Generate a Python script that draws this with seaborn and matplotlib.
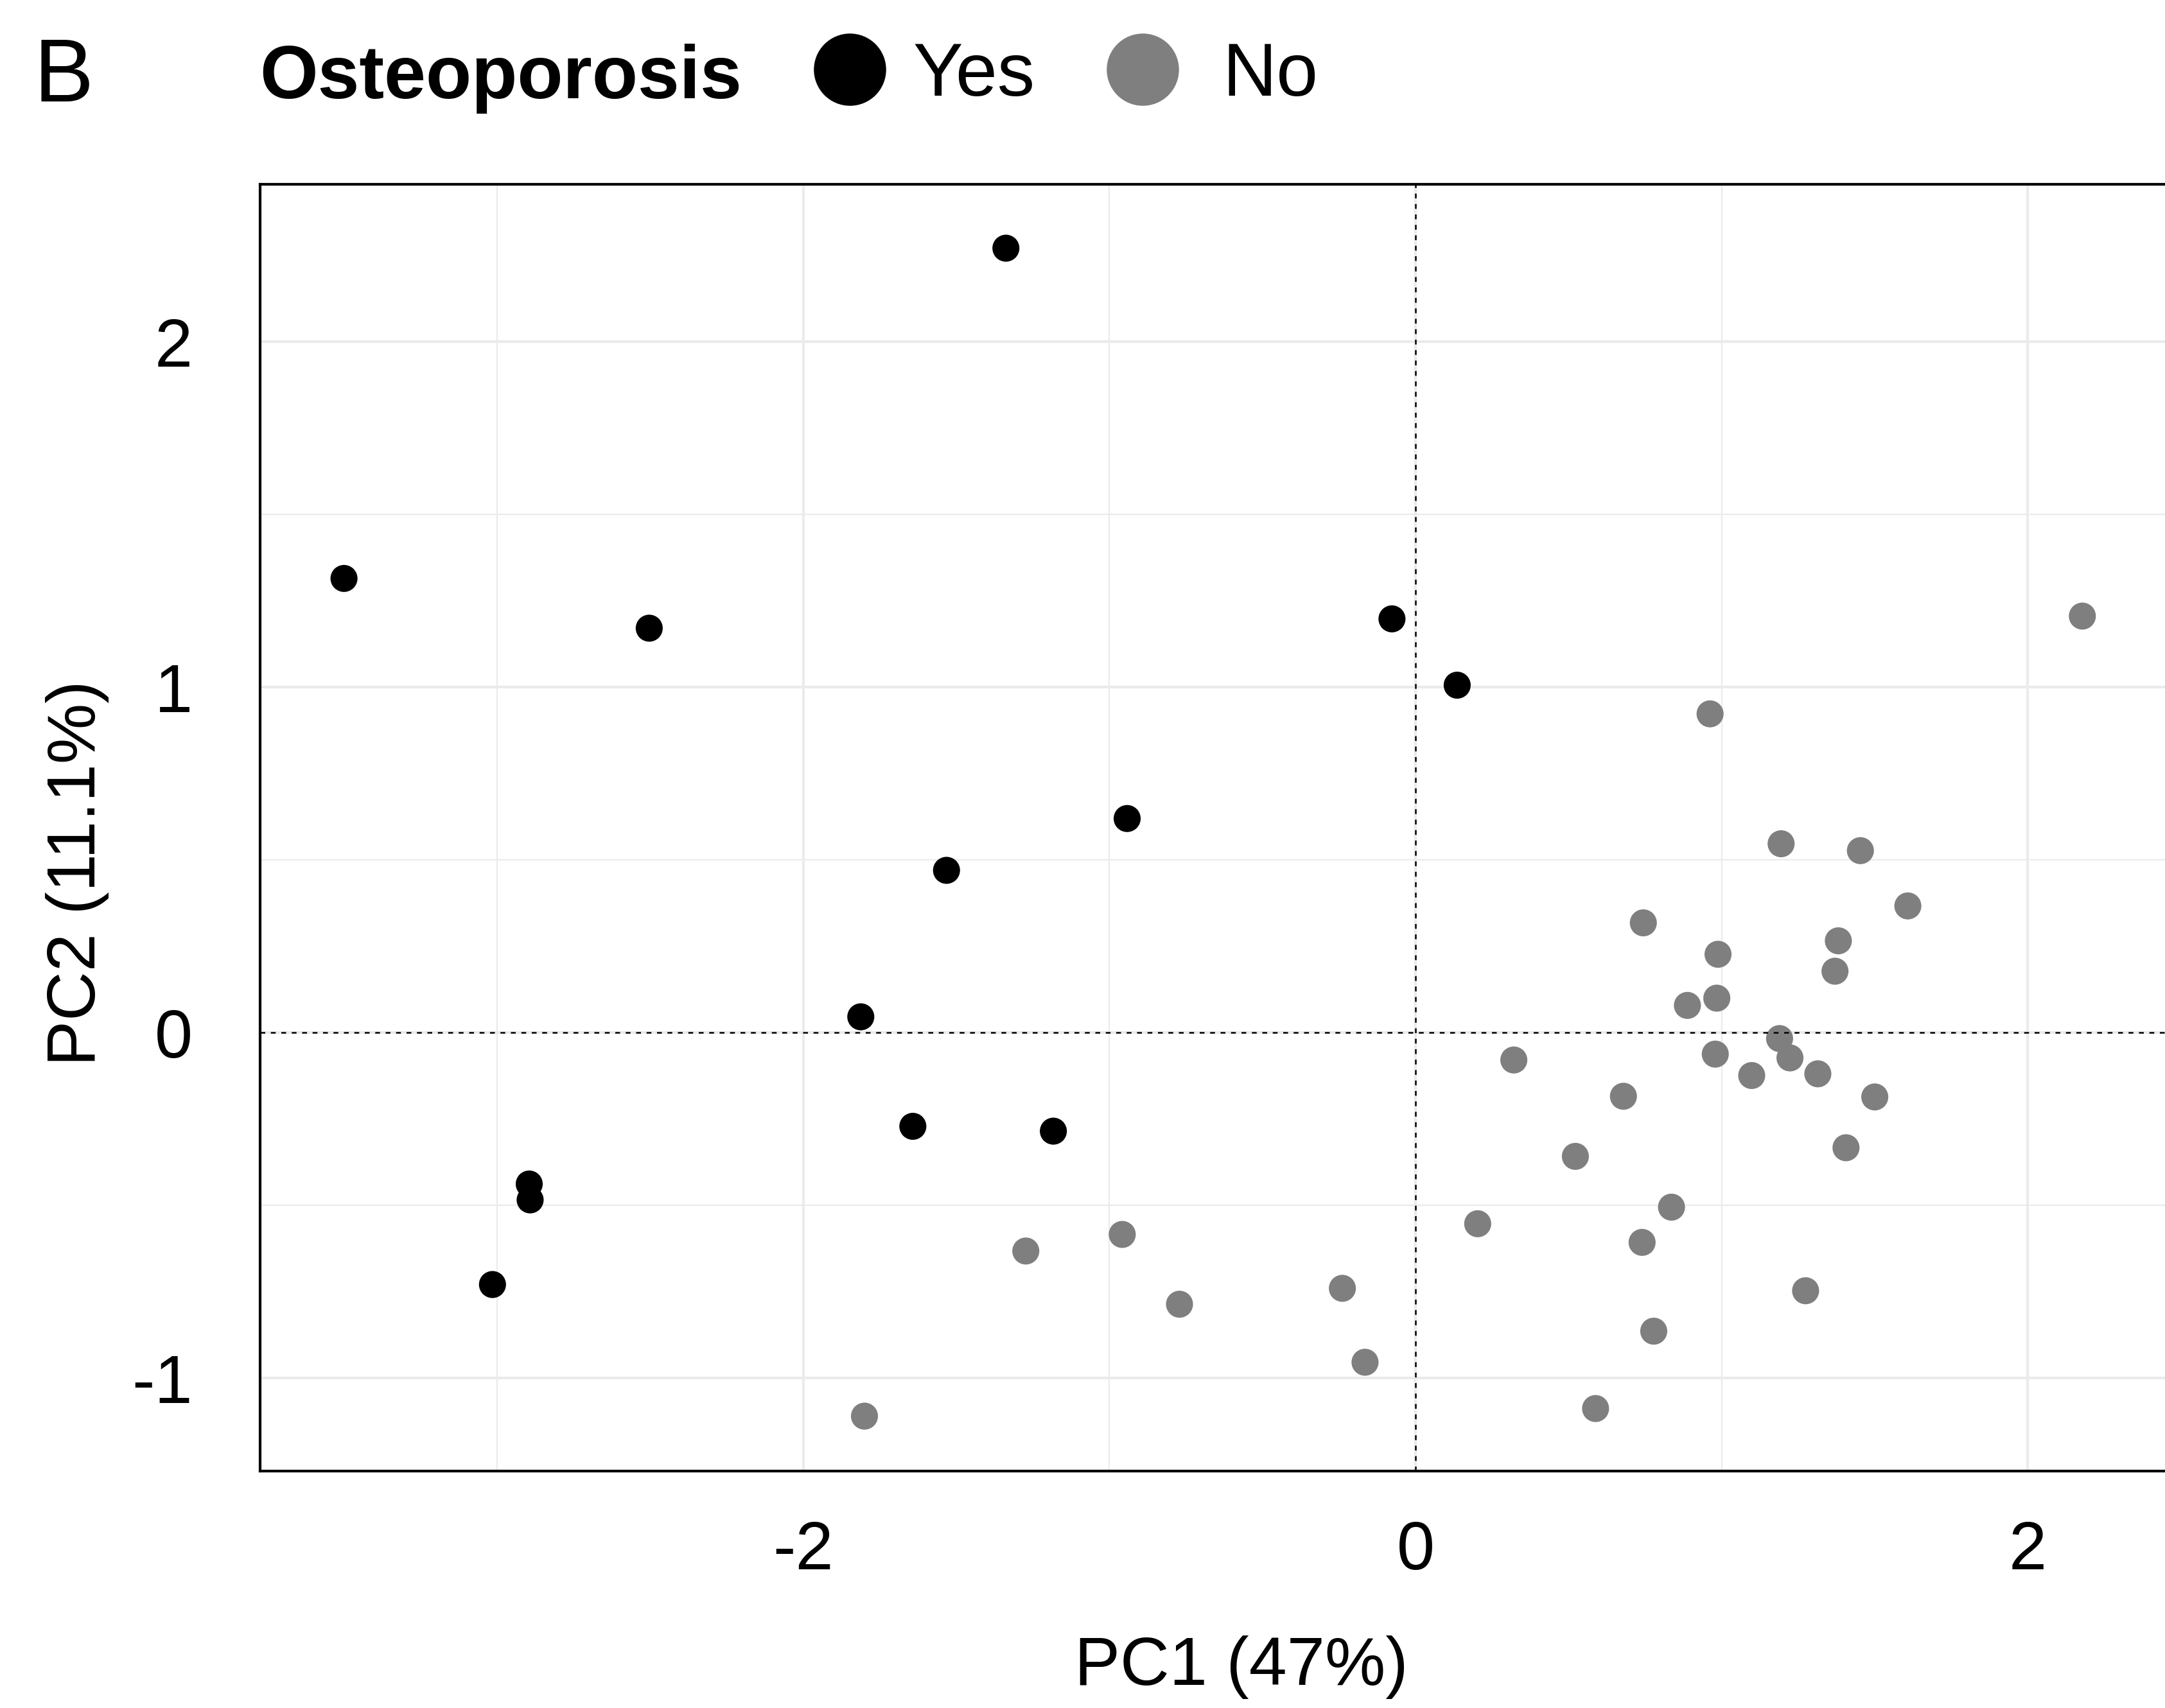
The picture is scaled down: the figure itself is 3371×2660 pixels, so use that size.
import numpy as np
import pandas as pd
import matplotlib
matplotlib.use("Agg")
import matplotlib.pyplot as plt
from matplotlib.lines import Line2D
import seaborn as sns

# ---- data ----
yes_x = [-3.500, -2.503, -1.338, -0.077, 0.136, -0.942, -1.532, -1.812,
         -1.642, -1.183, -2.895, -2.892, -3.015]
yes_y = [1.314, 1.170, 2.270, 1.197, 1.005, 0.619, 0.469, 0.045,
         -0.272, -0.286, -0.439, -0.485, -0.730]

no_x = [2.178, 0.962, 1.194, 1.453, 1.608, 0.744, 1.381, 0.988, 1.370,
        0.984, 0.888, 1.189, 1.223, 0.979, 1.098, 1.314, 0.321, 0.679,
        1.500, 0.522, 1.406, 0.836, 0.203, 0.740, 1.274, 0.778, 0.588,
        -0.239, -0.165, -0.771, -0.958, -1.273, -1.800]
no_y = [1.205, 0.922, 0.546, 0.526, 0.366, 0.317, 0.265, 0.226, 0.177,
        0.099, 0.078, -0.018, -0.074, -0.063, -0.125, -0.120, -0.080, -0.185,
        -0.187, -0.359, -0.334, -0.506, -0.554, -0.608, -0.748, -0.865, -1.089,
        -0.741, -0.955, -0.787, -0.585, -0.633, -1.111]

groups = ["Yes", "No"]
colors = {"Yes": "#000000", "No": "#7F7F7F"}
x_ticks = [-2, 0, 2]
y_ticks = [-1, 0, 1, 2]
x_label = "PC1 (47%)"
y_label = "PC2 (11.1%)"
legend_title = "Osteoporosis"
panel_tag = "B"

df = pd.DataFrame({
    "PC1": yes_x + no_x,
    "PC2": yes_y + no_y,
    "Osteoporosis": ["Yes"] * len(yes_x) + ["No"] * len(no_x),
})

# ---- style ----
sns.set_style("white")
plt.rcParams["font.family"] = ["Liberation Sans", "DejaVu Sans"]
plt.rcParams["axes.unicode_minus"] = False
plt.rcParams["text.color"] = "black"
plt.rcParams["axes.labelcolor"] = "black"
plt.rcParams["xtick.color"] = "black"
plt.rcParams["ytick.color"] = "black"

W, H, DPI = 3371, 2661, 300
fig = plt.figure(figsize=(W / DPI, H / DPI), dpi=DPI)

xlim = (-3.774, 2.462)
ylim = (-1.270, 2.455)
px_per_x = 476.7
left_px, top_px, bottom_px = 405, 288, 2292
width_px = (xlim[1] - xlim[0]) * px_per_x
ax = fig.add_axes([left_px / W, 1 - bottom_px / H, width_px / W, (bottom_px - top_px) / H])

# grid
ax.set_axisbelow(True)
ax.set_xticks(x_ticks)
ax.set_yticks(y_ticks)
ax.set_xticks([-3, -1, 1], minor=True)
ax.set_yticks([-0.5, 0.5, 1.5], minor=True)
ax.grid(which="major", color="#EBEBEB", linewidth=1.0)
ax.grid(which="minor", color="#EBEBEB", linewidth=0.55)

sns.scatterplot(data=df, x="PC1", y="PC2", hue="Osteoporosis",
                palette=colors, hue_order=groups, s=102, linewidth=0,
                alpha=1, ax=ax, legend=False, zorder=3)

ax.axhline(0, color="black", linewidth=0.6, linestyle=(0, (3, 3.5)), zorder=4)
ax.axvline(0, color="black", linewidth=0.6, linestyle=(0, (3, 3.5)), zorder=4)

ax.set_xlim(*xlim)
ax.set_ylim(*ylim)
ax.set_xticklabels([str(t) for t in x_ticks])
ax.set_yticklabels([str(t) for t in y_ticks])

for side in ["left", "top", "bottom", "right"]:
    ax.spines[side].set_visible(True)
    ax.spines[side].set_color("black")
    ax.spines[side].set_linewidth(1.0)

ax.tick_params(axis="both", which="major", direction="out", color="black",
               width=1.0, labelsize=25.5, labelcolor="black")
ax.tick_params(axis="y", which="major", length=13.4, pad=11.8)
ax.tick_params(axis="x", which="major", length=8.9, pad=9)
ax.tick_params(which="minor", length=0)

ax.set_xlabel(x_label, fontsize=25.5, va="baseline", color="black")
ax.set_ylabel(y_label, fontsize=25.5, va="baseline", color="black")
ax.xaxis.set_label_coords((1933 - left_px) / width_px, -(2624 - bottom_px) / (bottom_px - top_px))
ax.yaxis.set_label_coords(-(left_px - 148) / width_px, (bottom_px - 1360) / (bottom_px - top_px))

# legend (one key per legend so each label gap matches the reference)
legend_y = 1 - 119 / H
marker_centres = {"Yes": 1323, "No": 1779}
text_pads = {"Yes": 0.34, "No": 0.565}
for g in groups:
    h = Line2D([], [], marker="o", linestyle="", color=colors[g],
               markersize=27, markeredgewidth=0)
    leg = fig.legend([h], [g], loc="center left",
                     bbox_to_anchor=((marker_centres[g] - 58) / W, legend_y),
                     frameon=False, fontsize=28, handlelength=1.0,
                     handletextpad=text_pads[g], borderpad=0, borderaxespad=0,
                     labelcolor="black")
fig.text(404 / W, 1 - 153 / H, legend_title, fontsize=28, color="black",
         fontweight="bold", va="baseline", ha="left")
fig.text(53 / W, 1 - 158 / H, panel_tag, fontsize=33.5, color="black",
         va="baseline", ha="left")

fig.savefig("out.png", dpi=DPI)
